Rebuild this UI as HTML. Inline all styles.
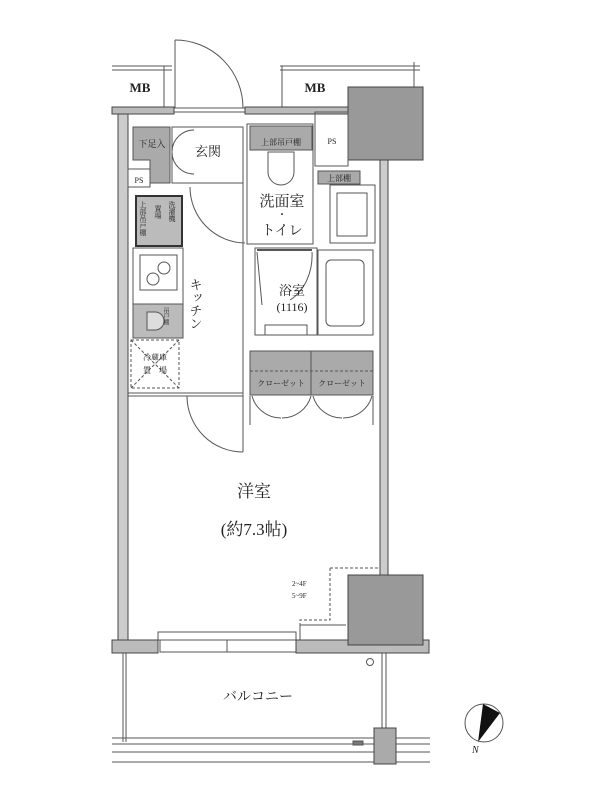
<!DOCTYPE html>
<html><head><meta charset="utf-8"><style>
html,body{margin:0;padding:0;background:#fff;}
svg{display:block;}
text{font-family:"Liberation Serif","Noto Serif CJK SC",serif;fill:#222;}
</style></head><body>
<svg width="600" height="800" viewBox="0 0 600 800" xmlns="http://www.w3.org/2000/svg">
<g stroke="#555" stroke-width="1" fill="none">
<line x1="112" y1="66" x2="172" y2="66"/><line x1="112" y1="70" x2="172" y2="70"/>
<line x1="164" y1="66" x2="164" y2="108"/>
<line x1="280" y1="66" x2="420" y2="66"/><line x1="280" y1="70" x2="420" y2="70"/>
<line x1="282" y1="66" x2="282" y2="108"/>
<line x1="414" y1="62" x2="414" y2="88"/>
<line x1="175" y1="40" x2="175" y2="108"/>
<path d="M175 40 A68 68 0 0 1 243 108"/>
</g>
<rect x="112" y="107" width="62" height="7" fill="#bbb" stroke="#444"/>
<rect x="245" y="107" width="105" height="7" fill="#bbb" stroke="#444"/>
<line x1="174" y1="108" x2="245" y2="108" stroke="#555"/>
<line x1="174" y1="112" x2="245" y2="112" stroke="#555"/>
<rect x="348" y="87" width="75" height="73" fill="#999" stroke="#444"/>
<rect x="118" y="114" width="10" height="526" fill="#ccc" stroke="#444"/>
<rect x="380" y="160" width="8" height="415" fill="#ccc" stroke="#444"/>
<g stroke="#555" fill="none" stroke-width="1">
<rect x="172" y="127" width="71" height="56"/>
<path d="M133 127 H170 V183 H150 V160 H133 Z" fill="#aaa"/>
<rect x="128" y="169" width="22" height="18"/>
<path d="M172 152 A22 22 0 0 1 194 130"/><path d="M172 152 A22 22 0 0 0 194 174"/>
<rect x="136" y="196" width="46" height="50" fill="#bbb" stroke="#333" stroke-width="2"/>
<rect x="133" y="248" width="50" height="56"/>
<rect x="140" y="255" width="37" height="35"/>
<circle cx="164" cy="268" r="6"/><circle cx="153" cy="279" r="6"/>
<rect x="133" y="304" width="50" height="34" fill="#bbb"/>
<path d="M155 312 h-8 v18 h8 a9 9 0 0 0 0 -18z" fill="#ddd"/>
<rect x="131" y="340" width="48" height="48" stroke-dasharray="3,2"/>
<line x1="131" y1="340" x2="179" y2="388" stroke-dasharray="3,2"/>
<line x1="179" y1="340" x2="131" y2="388" stroke-dasharray="3,2"/>
<line x1="243" y1="183" x2="243" y2="425"/>
<path d="M190 187 A56 56 0 0 0 245 243"/>
<line x1="128" y1="393" x2="243" y2="393"/>
<line x1="128" y1="396" x2="243" y2="396"/>
<rect x="247" y="124" width="66" height="120"/>
<rect x="250" y="126" width="62" height="24" fill="#aaa"/>
<path d="M268 152 h26 v20 a13 13 0 0 1 -26 0 z"/>
<rect x="315" y="112" width="33" height="54"/>
<rect x="318" y="171" width="42" height="13" fill="#aaa"/>
<rect x="330" y="185" width="45" height="58"/>
<rect x="337" y="193" width="30" height="43"/>
<rect x="255" y="248" width="62" height="87"/>
<line x1="257" y1="250" x2="312" y2="250" stroke-width="2"/>
<path d="M257 252 L262 305"/><path d="M312 252 A40 50 0 0 1 290 300"/>
<rect x="265" y="325" width="42" height="10"/>
<rect x="318" y="250" width="55" height="85"/>
<rect x="326" y="260" width="38" height="66" rx="5"/>
<rect x="250" y="351" width="61" height="44" fill="#aaa"/>
<rect x="311" y="351" width="62" height="44" fill="#aaa"/>
<line x1="250" y1="371" x2="373" y2="371" stroke-dasharray="3,2"/>
<path d="M252 396 A30 30 0 0 0 281 418 M311 396 A30 30 0 0 1 282 418"/>
<path d="M313 396 A30 30 0 0 0 342 418 M372 396 A30 30 0 0 1 343 418"/>
<line x1="250" y1="396" x2="250" y2="425"/><line x1="373" y1="396" x2="373" y2="425"/>
<line x1="243" y1="396" x2="243" y2="452"/>
<path d="M187 396 A56 56 0 0 0 243 452"/>
<path d="M330 568 H380 M330 568 V620 H300 V640" stroke-dasharray="3,2"/>
<path d="M300 640 V625 H346"/>
<rect x="158" y="632" width="138" height="8"/>
<rect x="160" y="640" width="136" height="12"/>
<line x1="227" y1="640" x2="227" y2="652"/>
</g>
<rect x="112" y="640" width="46" height="13" fill="#bbb" stroke="#444"/>
<rect x="296" y="640" width="133" height="13" fill="#bbb" stroke="#444"/>
<rect x="348" y="575" width="75" height="70" fill="#999" stroke="#444"/>
<g stroke="#555" fill="none">
<line x1="123" y1="653" x2="123" y2="742"/><line x1="126" y1="653" x2="126" y2="742"/>
<line x1="382" y1="653" x2="382" y2="728"/><line x1="386" y1="653" x2="386" y2="728"/>
<line x1="112" y1="738" x2="430" y2="738"/><line x1="112" y1="744" x2="430" y2="744"/>
<line x1="112" y1="752" x2="430" y2="752"/><line x1="112" y1="762" x2="430" y2="762"/>
<circle cx="370" cy="662" r="3.5"/>
<rect x="353" y="741" width="10" height="4" fill="#777"/>
<circle cx="484" cy="723" r="19"/>
</g>
<rect x="374" y="728" width="22" height="36" fill="#aaa" stroke="#444"/>
<path d="M483 704 L500 713 L478 742 Z" fill="#111"/>
<text x="140" y="92" font-size="13" font-weight="bold" text-anchor="middle">MB</text>
<text x="315" y="92" font-size="13" font-weight="bold" text-anchor="middle">MB</text>
<text x="152" y="147" font-size="9" text-anchor="middle">下足入</text>
<text x="208" y="156" font-size="13" text-anchor="middle">玄関</text>
<text x="139" y="183" font-size="8" text-anchor="middle">PS</text>
<text x="332" y="144" font-size="8" text-anchor="middle">PS</text>
<text x="281" y="145" font-size="8" text-anchor="middle">上部吊戸棚</text>
<text x="339" y="181" font-size="8" text-anchor="middle">上部棚</text>
<text x="143" y="201" font-size="7" writing-mode="tb">上部吊戸棚</text>
<text x="158" y="205" font-size="7" writing-mode="tb">置場</text>
<text x="172" y="201" font-size="7" writing-mode="tb">洗濯機</text>
<text x="165" y="307" font-size="6" writing-mode="tb">吊戸棚</text>
<text x="282" y="206" font-size="15" text-anchor="middle">洗面室</text>
<text x="282" y="218" font-size="10" text-anchor="middle">・</text>
<text x="282" y="235" font-size="14" text-anchor="middle">トイレ</text>
<text x="292" y="295" font-size="13" text-anchor="middle">浴室</text>
<text x="292" y="311" font-size="12" text-anchor="middle">(1116)</text>
<text x="195" y="278" font-size="13" writing-mode="tb">キッチン</text>
<text x="155" y="360" font-size="8" text-anchor="middle">冷蔵庫</text>
<text x="155" y="373" font-size="8" text-anchor="middle">置　場</text>
<text x="281" y="386" font-size="8" text-anchor="middle">クローゼット</text>
<text x="342" y="386" font-size="8" text-anchor="middle">クローゼット</text>
<text x="254" y="497" font-size="17" text-anchor="middle">洋室</text>
<text x="254" y="535" font-size="17" text-anchor="middle">(約7.3帖)</text>
<text x="292" y="586" font-size="7">2~4F</text>
<text x="292" y="598" font-size="7">5~9F</text>
<text x="258" y="701" font-size="14" text-anchor="middle">バルコニー</text>
<text x="472" y="753" font-size="10" font-style="italic">N</text>
</svg>
</body></html>
